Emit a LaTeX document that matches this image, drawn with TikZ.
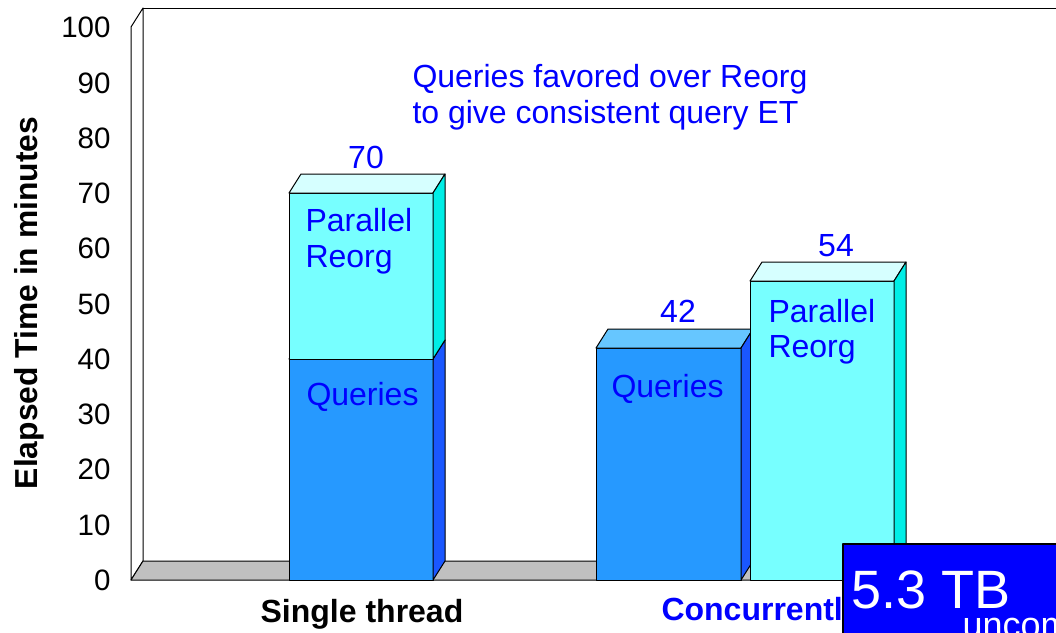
\documentclass[tikz,border=0pt]{standalone}
\usepackage{fontspec}
\setmainfont{Liberation Sans}
\usetikzlibrary{calc}

\definecolor{qfront}{HTML}{2699FF}
\definecolor{qside}{HTML}{1A57FF}
\definecolor{qtop}{HTML}{66C6FF}
\definecolor{rfront}{HTML}{77FFFF}
\definecolor{rside}{HTML}{00EEE6}
\definecolor{rtop}{HTML}{D6FFFF}
\definecolor{floorgray}{HTML}{C0C0C0}
\definecolor{txtblue}{HTML}{0000FF}
\definecolor{boxblue}{HTML}{0000FF}

% depth offset of the 3-D chart: (+12, -19)
% #1 left x, #2 right x, #3 top y, #4 bottom y, #5 front, #6 top, #7 side colour
\newcommand\cuboid[7]{%
  \filldraw[fill=#5] (#1,#4) rectangle (#2,#3);
  \filldraw[fill=#6] (#1,#3) -- (#1+12,#3-19) -- (#2+12,#3-19) -- (#2,#3) -- cycle;
  \filldraw[fill=#7] (#2,#3) -- (#2+12,#3-19) -- (#2+12,#4-19) -- (#2,#4) -- cycle;
}

\tikzset{
  tick/.style={anchor=east, inner sep=0pt, font=\fontsize{29.5}{33}\selectfont},
  val/.style={anchor=base, inner sep=0pt, text=txtblue, font=\fontsize{32}{36}\selectfont},
  inlbl/.style={anchor=base west, inner sep=0pt, text=txtblue, font=\fontsize{32}{36}\selectfont},
  catlbl/.style={anchor=base, inner sep=0pt, font=\bfseries\fontsize{32}{36}\selectfont},
}

\begin{document}
\begin{tikzpicture}[x=1pt, y=-1pt, line width=1pt, line join=round]
\useasboundingbox (0,0) rectangle (1056,632);
\fill[white] (0,0) rectangle (1056,632);
\clip (0,0) rectangle (1056,632);

% walls and floor
\filldraw[fill=white] (131,580) -- (131,27) -- (143,8) -- (143,561) -- cycle;
\draw (143,8) -- (1070,8);
\filldraw[fill=floorgray] (131,580) -- (143,561) -- (1070,561) -- (1070,580) -- cycle;

% Single thread: stacked bar
\cuboid{289}{433}{359}{580}{qfront}{qtop}{qside}
\cuboid{289}{433}{193}{359}{rfront}{rtop}{rside}

% Concurrently: two bars
\cuboid{596}{741}{348}{580}{qfront}{qtop}{qside}
\cuboid{750}{894}{281}{580}{rfront}{rtop}{rside}

% value axis
\node[tick] (t0)   at (111,580) {0};
\node[tick] (t10)  at (111,525) {10};
\node[tick] (t20)  at (111,469) {20};
\node[tick] (t30)  at (111,414) {30};
\node[tick] (t40)  at (111,359) {40};
\node[tick] (t50)  at (111,304) {50};
\node[tick] (t60)  at (111,248) {60};
\node[tick] (t70)  at (111,193) {70};
\node[tick] (t80)  at (111,138) {80};
\node[tick] (t90)  at (111,83)  {90};
\node[tick] (t100) at (111,27)  {100};
\node[rotate=90, inner sep=0pt, font=\bfseries\fontsize{31.8}{35}\selectfont] (ylab) at (29,303) {Elapsed Time in minutes};

% bar values
\node[val] (v70) at (366,168) {70};
\node[val] (v42) at (678,322) {42};
\node[val] (v54) at (836,256) {54};

% labels inside the bars
\node[inlbl] (pr1a) at (305,231) {Parallel};
\node[inlbl] (pr1b) at (305,267) {Reorg};
\node[inlbl] (q1)   at (306,405) {Queries};
\node[inlbl] (q2)   at (611,397) {Queries};
\node[inlbl] (pr2a) at (768,322) {Parallel};
\node[inlbl] (pr2b) at (768,357) {Reorg};

% note
\node[inlbl] (noteA) at (412,87)  {Queries favored over Reorg};
\node[inlbl] (noteB) at (412,123) {to give consistent query ET};

% categories
\node[catlbl] (cat1) at (362,622) {Single thread};
\node[catlbl, anchor=base west, text=txtblue] (cat2) at (661,620) {Concurrently};

% data size box
\node[draw=black, line width=2pt, fill=boxblue, anchor=north west,
      minimum width=240pt, minimum height=120pt, inner sep=0pt] (tb) at (842,543) {};
\node[anchor=base west, inner sep=0pt, text=white, font=\fontsize{54}{60}\selectfont] (tbsize) at (851,608) {5.3 TB};
\node[anchor=base west, inner sep=0pt, text=white, font=\fontsize{36}{40}\selectfont] (tbnote) at (962,637) {uncompressed};
\end{tikzpicture}
\end{document}
